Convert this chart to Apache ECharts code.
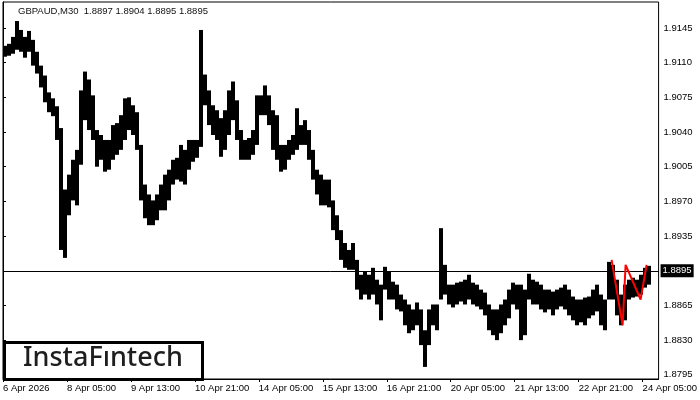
<!DOCTYPE html>
<html>
<head>
<meta charset="utf-8">
<script src="https://cdn.jsdelivr.net/npm/echarts@6/dist/echarts.min.js"></script>
<style>
  html, body { margin: 0; padding: 0; background: #fff; }
  #main { width: 700px; height: 400px; }
</style>
</head>
<body>
<div id="main"></div>
<script>
// GBPAUD M30, one entry per 4 bars (2 hours)
const barsPerPoint = 4;
const highs = [
  1.9127, 1.9129, 1.9136, 1.9152, 1.9143, 1.9136, 1.9142, 1.9133, 1.9121, 1.9107,
  1.9097, 1.9080, 1.9074, 1.9066, 1.9044, 1.8982, 1.8997, 1.9012, 1.9022, 1.9082,
  1.9101, 1.9093, 1.9077, 1.9042, 1.9037, 1.9032, 1.9032, 1.9047, 1.9049, 1.9057,
  1.9074, 1.9075, 1.9067, 1.9060, 1.9027, 1.8987, 1.8977, 1.8971, 1.8977, 1.8987,
  1.8997, 1.9002, 1.9012, 1.9014, 1.9027, 1.9022, 1.9032, 1.9032, 1.9032, 1.9143,
  1.9098, 1.9082, 1.9067, 1.9062, 1.9054, 1.9062, 1.9082, 1.9091, 1.9072, 1.9042,
  1.9032, 1.9034, 1.9042, 1.9077, 1.9077, 1.9087, 1.9077, 1.9062, 1.9057, 1.9027,
  1.9027, 1.9032, 1.9037, 1.9064, 1.9047, 1.9052, 1.9042, 1.9022, 1.9002, 1.8997,
  1.8992, 1.8992, 1.8971, 1.8956, 1.8941, 1.8928, 1.8921, 1.8928, 1.8911, 1.8896,
  1.8899, 1.8896, 1.8903, 1.8891, 1.8886, 1.8904, 1.8899, 1.8889, 1.8886, 1.8876,
  1.8871, 1.8866, 1.8861, 1.8868, 1.8861, 1.8840, 1.8861, 1.8866, 1.8866, 1.8943,
  1.8906, 1.8886, 1.8886, 1.8888, 1.8889, 1.8891, 1.8896, 1.8888, 1.8886, 1.8881,
  1.8878, 1.8866, 1.8861, 1.8861, 1.8866, 1.8871, 1.8881, 1.8888, 1.8886, 1.8886,
  1.8881, 1.8897, 1.8891, 1.8889, 1.8886, 1.8881, 1.8881, 1.8879, 1.8881, 1.8883,
  1.8886, 1.8881, 1.8874, 1.8871, 1.8871, 1.8873, 1.8874, 1.8881, 1.8886, 1.8876,
  1.8871, 1.8909, 1.8906, 1.8891, 1.8876, 1.8886, 1.8891, 1.8893, 1.8891, 1.8896,
  1.8903, 1.8905
];
const lows = [
  1.9116, 1.9117, 1.9119, 1.9123, 1.9121, 1.9115, 1.9121, 1.9107, 1.9099, 1.9085,
  1.9070, 1.9060, 1.9056, 1.9032, 1.8921, 1.8913, 1.8956, 1.8971, 1.8966, 1.9007,
  1.9052, 1.9042, 1.9032, 1.9005, 1.9012, 1.9000, 1.9002, 1.9012, 1.9017, 1.9022,
  1.9032, 1.9042, 1.9037, 1.9022, 1.8971, 1.8953, 1.8946, 1.8946, 1.8951, 1.8961,
  1.8961, 1.8971, 1.8987, 1.8992, 1.8990, 1.8987, 1.9002, 1.9010, 1.9014, 1.9025,
  1.9067, 1.9047, 1.9037, 1.9032, 1.9015, 1.9022, 1.9037, 1.9052, 1.9032, 1.9012,
  1.9012, 1.9012, 1.9017, 1.9027, 1.9057, 1.9057, 1.9047, 1.9022, 1.9012, 1.9000,
  1.9002, 1.9012, 1.9017, 1.9022, 1.9027, 1.9027, 1.9012, 1.8992, 1.8977, 1.8966,
  1.8966, 1.8964, 1.8941, 1.8931, 1.8911, 1.8903, 1.8901, 1.8901, 1.8881, 1.8871,
  1.8876, 1.8871, 1.8876, 1.8866, 1.8850, 1.8881, 1.8871, 1.8871, 1.8861, 1.8859,
  1.8845, 1.8837, 1.8840, 1.8845, 1.8825, 1.8803, 1.8825, 1.8845, 1.8840, 1.8871,
  1.8876, 1.8866, 1.8863, 1.8866, 1.8869, 1.8866, 1.8871, 1.8866, 1.8864, 1.8861,
  1.8855, 1.8840, 1.8835, 1.8830, 1.8837, 1.8845, 1.8852, 1.8866, 1.8861, 1.8830,
  1.8835, 1.8871, 1.8866, 1.8866, 1.8861, 1.8858, 1.8861, 1.8855, 1.8861, 1.8864,
  1.8861, 1.8855, 1.8850, 1.8845, 1.8848, 1.8845, 1.8852, 1.8855, 1.8859, 1.8845,
  1.8840, 1.8871, 1.8871, 1.8855, 1.8845, 1.8850, 1.8871, 1.8873, 1.8874, 1.8876,
  1.8883, 1.8886
];
const timeTicks = [0, 64, 128, 192, 256, 320, 384, 448, 512, 576, 640];
const timeLabels = ['6 Apr 2026', '8 Apr 05:00', '9 Apr 13:00', '10 Apr 21:00', '14 Apr 05:00',
  '15 Apr 13:00', '16 Apr 21:00', '20 Apr 05:00', '21 Apr 13:00', '22 Apr 21:00', '24 Apr 05:00'];
const priceTicks = [1.8795, 1.8830, 1.8865, 1.8900, 1.8935, 1.8970, 1.9005, 1.9040, 1.9075, 1.9110, 1.9145];
const patternBars = [609, 620, 623, 638, 644];
const patternPrices = [1.8911, 1.8845, 1.8906, 1.8871, 1.8906];
const lastPrice = 1.8895;
const titleText = 'GBPAUD,M30  1.8897 1.8904 1.8895 1.8895';

const barData = highs.map((h, i) => [i * barsPerPoint, lows[i], h]);
const patternData = patternBars.map((b, i) => [b, patternPrices[i]]);

const chart = echarts.init(document.getElementById('main'));
const font = 'Liberation Sans';

chart.setOption({
  animation: false,
  backgroundColor: '#fff',
  grid: { left: 3, right: 41, top: 2, bottom: 21, show: true, borderColor: '#000', borderWidth: 1 },
  xAxis: {
    type: 'value', min: 0, max: 656,
    axisLine: { show: true, lineStyle: { color: '#000' } },
    splitLine: { show: false },
    axisTick: { show: true, length: 3, customValues: timeTicks, lineStyle: { color: '#000' } },
    axisLabel: {
      customValues: timeTicks, align: 'left', margin: 4,
      fontFamily: font, fontSize: 9.5, color: '#000',
      formatter: v => timeLabels[timeTicks.indexOf(Math.round(v))] || ''
    }
  },
  yAxis: {
    type: 'value', position: 'right', min: 1.87908, max: 1.91712, scale: true,
    axisLine: { show: true, lineStyle: { color: '#000' } },
    splitLine: { show: false },
    axisTick: { show: true, length: 3, customValues: priceTicks, lineStyle: { color: '#000' } },
    axisLabel: {
      customValues: priceTicks, margin: 5,
      fontFamily: font, fontSize: 9.5, color: '#000',
      formatter: v => v.toFixed(4)
    }
  },
  graphic: [
    {
      type: 'text', left: 18, top: 6, z: 10,
      style: { text: titleText, font: '9.5px "Liberation Sans"', fill: '#111' }
    },
    {
      type: 'rect', left: 3, top: 341, z: 10,
      shape: { width: 198, height: 37 },
      style: { fill: '#fff', stroke: '#000', lineWidth: 3 }
    },
    {
      type: 'text', left: 23, top: 345, z: 11,
      style: { text: 'InstaFıntech', font: '500 27px "Noto Sans"', fill: '#1e1e1e' }
    }
  ],
  series: [
    {
      type: 'custom',
      data: barData,
      encode: { x: 0, y: [1, 2] },
      renderItem: (params, api) => {
        const lo = api.coord([api.value(0), api.value(1)]);
        const hi = api.coord([api.value(0) + barsPerPoint, api.value(2)]);
        const x0 = Math.round(lo[0]);
        const x1 = Math.round(hi[0]);
        return {
          type: 'rect',
          shape: { x: x0, y: hi[1], width: x1 - x0, height: Math.max(1, lo[1] - hi[1]) },
          style: { fill: '#000' }
        };
      }
    },
    {
      type: 'line',
      data: patternData,
      symbol: 'none',
      lineStyle: { color: '#ff0000', width: 2 },
      z: 5,
      markLine: {
        silent: true,
        symbol: ['none', 'none'],
        lineStyle: { color: '#000', width: 1, type: 'solid' },
        label: {
          show: true, position: 'end', distance: 2,
          formatter: () => lastPrice.toFixed(4),
          backgroundColor: '#000', color: '#fff', padding: [2, 2, 1, 2],
          fontFamily: font, fontSize: 9.5
        },
        data: [{ yAxis: lastPrice }]
      }
    }
  ]
});
</script>
</body>
</html>
